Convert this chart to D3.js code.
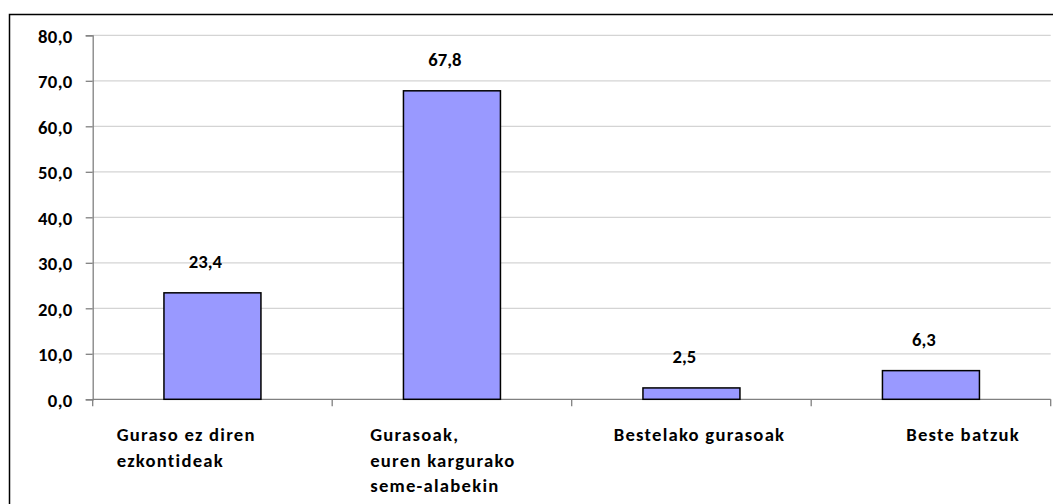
<!DOCTYPE html>
<html>
<head>
<meta charset="utf-8">
<script src="https://cdn.jsdelivr.net/npm/d3@7"></script>
<style>
	body { margin: 0; background: #fff; }
	text { font-family: Carlito, Calibri, Lato, sans-serif; font-weight: bold; fill: #000; }
</style>
</head>
<body>
<div id="chart"></div>
<script>
// data
var categories = ['Guraso ez diren ezkontideak', 'Gurasoak, euren kargurako seme-alabekin', 'Bestelako gurasoak', 'Beste batzuk'];
var labelLines = [['Guraso ez diren', 'ezkontideak'], ['Gurasoak,', 'euren kargurako', 'seme-alabekin'], ['Bestelako gurasoak'], ['Beste batzuk']];
var values = [23.4, 67.8, 2.5, 6.3];
var yTicks = [0, 10, 20, 30, 40, 50, 60, 70, 80];

// layout
var width = 1053, height = 504;
var plot = {left: 92.7, right: 1050.7, top: 35.3, bottom: 399.3};
var labelOffsets = [24, 38, 42, 95];   // x-label start inside each category band
var fontSize = '18.67px';
var fmt = function(v) { return v.toFixed(1).replace('.', ','); };

var svg = d3.select('#chart').append('svg')
	.attr('width', width)
	.attr('height', height);

// outer frame
svg.append('rect')
	.attr('x', 9.5).attr('y', 14.5)
	.attr('width', width + 20).attr('height', height + 20)
	.attr('fill', 'none')
	.attr('stroke', '#000')
	.attr('stroke-width', 1.5);

var x = d3.scaleBand().domain(categories).range([plot.left, plot.right]).padding(0);
var y = d3.scaleLinear().domain([0, 80]).range([plot.bottom, plot.top]);
var barW = x.bandwidth() * 0.405;

// gridlines
svg.append('g').selectAll('line')
	.data(yTicks.slice(1))
	.enter().append('line')
	.attr('x1', plot.left).attr('x2', plot.right)
	.attr('y1', function(d) { return y(d); })
	.attr('y2', function(d) { return y(d); })
	.attr('stroke', '#d4d4d4')
	.attr('stroke-width', 1.2);

// y axis
var yAxis = svg.append('g')
	.attr('transform', 'translate(' + plot.left + ',0)')
	.call(d3.axisLeft(y).tickValues(yTicks).tickSize(7).tickPadding(13).tickFormat(fmt));
yAxis.attr('font-family', null).attr('font-size', null);
yAxis.select('.domain').attr('stroke', '#808080').attr('stroke-width', 1.3);
yAxis.selectAll('.tick line').attr('stroke', '#808080').attr('stroke-width', 1.3);
yAxis.selectAll('.tick text')
	.attr('dy', '0.36em')
	.style('font-size', fontSize)
	.style('letter-spacing', '0.4px')
	.attr('fill', '#000');

// x axis
svg.append('line')
	.attr('x1', plot.left).attr('x2', plot.right)
	.attr('y1', plot.bottom).attr('y2', plot.bottom)
	.attr('stroke', '#808080').attr('stroke-width', 1.3);
svg.append('g').selectAll('line')
	.data(categories.concat(['end']))
	.enter().append('line')
	.attr('x1', function(d, i) { return i < categories.length ? x(d) : plot.right; })
	.attr('x2', function(d, i) { return i < categories.length ? x(d) : plot.right; })
	.attr('y1', plot.bottom)
	.attr('y2', plot.bottom + 7)
	.attr('stroke', '#808080').attr('stroke-width', 1.3);

// bars
svg.append('g').selectAll('rect')
	.data(values)
	.enter().append('rect')
	.attr('x', function(d, i) { return x(categories[i]) + (x.bandwidth() - barW) / 2; })
	.attr('y', function(d) { return y(d); })
	.attr('width', barW)
	.attr('height', function(d) { return y(0) - y(d); })
	.attr('fill', '#9999ff')
	.attr('stroke', '#000')
	.attr('stroke-width', 1.5);

// value labels
svg.append('g').selectAll('text')
	.data(values)
	.enter().append('text')
	.attr('x', function(d, i) { return x(categories[i]) + x.bandwidth() / 2 - 7; })
	.attr('y', function(d) { return y(d) - 25; })
	.attr('text-anchor', 'middle')
	.style('font-size', fontSize)
	.text(fmt);

// category labels
var catLabels = svg.append('g').selectAll('text')
	.data(categories)
	.enter().append('text')
	.attr('x', function(d, i) { return x(d) + labelOffsets[i]; })
	.attr('y', 441)
	.style('font-size', fontSize)
	.style('letter-spacing', '1.25px');
catLabels.selectAll('tspan')
	.data(function(d, i) { return labelLines[i].map(function(t) { return {t: t, x: x(d) + labelOffsets[i]}; }); })
	.enter().append('tspan')
	.attr('x', function(d) { return d.x; })
	.attr('dy', function(d, j) { return j === 0 ? 0 : 25.5; })
	.text(function(d) { return d.t; });
</script>
</body>
</html>
